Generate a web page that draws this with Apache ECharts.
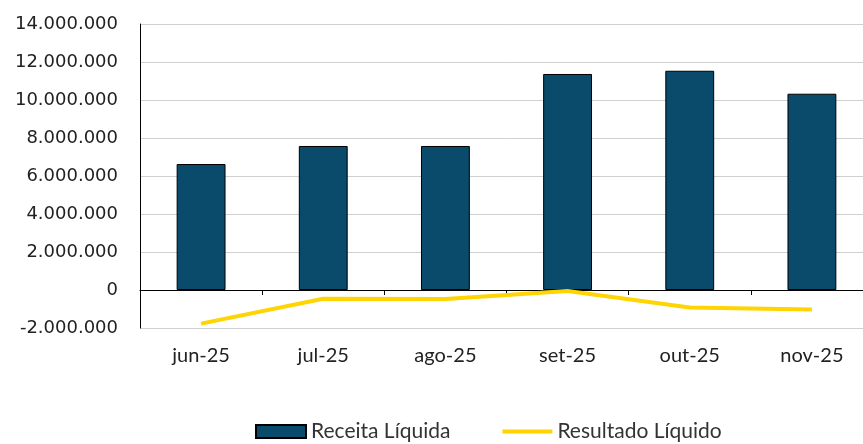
<!DOCTYPE html>
<html>
<head>
<meta charset="utf-8">
<script src="https://cdn.jsdelivr.net/npm/echarts@6/dist/echarts.min.js"></script>
<style>
    html, body { margin: 0; padding: 0; background: #fff; overflow: hidden; }
    /* a área do gráfico passa um pouco da borda direita, como no original */
    #chart { width: 873px; height: 444px; }
</style>
</head>
<body>
<div id="chart"></div>
<script>
    // meses
    var categories = ['jun-25', 'jul-25', 'ago-25', 'set-25', 'out-25', 'nov-25'];
    // Receita Líquida
    var receitaLiquida = [6630000, 7580000, 7580000, 11370000, 11540000, 10330000];
    // Resultado Líquido
    var resultadoLiquido = [-1770000, -460000, -480000, -50000, -920000, -1020000];
    // eixo Y
    var yMin = -2000000, yMax = 14000000, yStep = 2000000;

    function fmt(v) {
        var s = Math.abs(v).toString().replace(/\B(?=(\d{3})+(?!\d))/g, '.');
        return (v < 0 ? '-' : '') + s;
    }

    var chart = echarts.init(document.getElementById('chart'));
    chart.setOption({
        animation: false,
        grid: { left: 140, right: 0, top: 24, bottom: 116 },
        legend: {
            top: 416,
            left: 250,
            itemGap: 52,
            itemWidth: 50,
            itemHeight: 13,
            textStyle: { fontFamily: 'Lato', fontSize: 21, color: '#333' },
            data: [
                { name: 'Receita Líquida', icon: 'rect' },
                { name: 'Resultado Líquido', icon: 'path://M0,0 L50,0 L50,4 L0,4 Z' }
            ]
        },
        xAxis: [
            {
                type: 'category',
                data: categories,
                axisLine: { onZero: true, lineStyle: { color: '#000', width: 1 } },
                axisTick: { show: true, length: 5, lineStyle: { color: '#000' } },
                axisLabel: { show: false }
            },
            {
                type: 'category',
                data: categories,
                position: 'bottom',
                axisLine: { show: false, onZero: false },
                axisTick: { show: false },
                axisLabel: { margin: 18, fontFamily: 'Lato', fontSize: 20, color: '#222' }
            }
        ],
        yAxis: {
            type: 'value',
            min: yMin,
            max: yMax,
            interval: yStep,
            axisLine: { show: true, lineStyle: { color: '#000' } },
            axisTick: { show: false },
            splitLine: { lineStyle: { color: '#d0d0d0', width: 1 } },
            axisLabel: {
                margin: 22,
                fontFamily: 'DejaVu Sans',
                fontSize: 18,
                color: '#222',
                formatter: fmt
            }
        },
        series: [
            {
                name: 'Receita Líquida',
                type: 'bar',
                xAxisIndex: 0,
                barWidth: '40%',
                data: receitaLiquida,
                itemStyle: { color: '#0a4a6b', borderColor: '#000', borderWidth: 1 }
            },
            {
                name: 'Resultado Líquido',
                type: 'line',
                xAxisIndex: 0,
                data: resultadoLiquido,
                symbol: 'none',
                lineStyle: { color: '#ffd400', width: 4 },
                itemStyle: { color: '#ffd400' }
            }
        ]
    });
</script>
</body>
</html>
